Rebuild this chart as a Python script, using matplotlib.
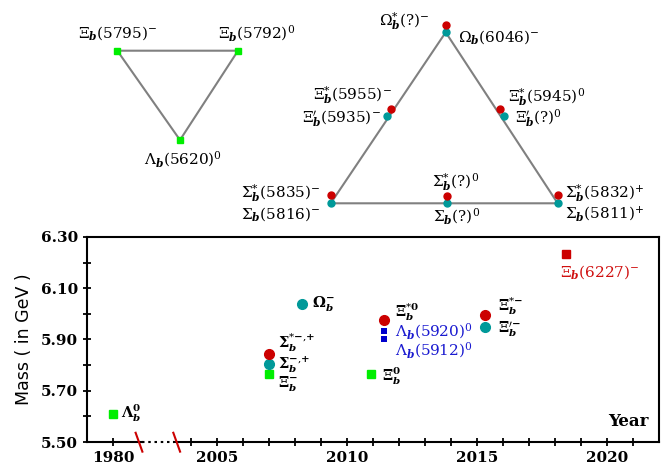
import matplotlib
matplotlib.use('Agg')
import matplotlib.pyplot as plt

plt.rcParams['mathtext.fontset'] = 'dejavuserif'
plt.rcParams['font.family'] = 'DejaVu Serif'

GREEN = '#00ee00'
RED = '#cc0000'
TEAL = '#009999'
BLUE = '#0000cc'

# ---- timeline (x = plotted year, the 1980 entry sits left of the axis break) ----
green_x = [2001.0, 2007.0, 2010.93]
green_m = [5.61, 5.764, 5.764]
green_lab = [r'$\mathbf{\Lambda}_{\mathbfit{b}}^{\mathbf{0}}$',
             r'$\mathbf{\Xi}_{\mathbfit{b}}^{{\mathbf{-}}}$',
             r'$\mathbf{\Xi}_{\mathbfit{b}}^{\mathbf{0}}$']
green_off = [(8, 0), (9, -9), (11, -2)]

teal_x = [2007.0, 2008.28, 2015.32]
teal_m = [5.806, 6.04, 5.95]
teal_lab = [r'$\mathbf{\Sigma}_{\mathbfit{b}}^{{\mathbf{-}}{,}{\mathbf{+}}}$',
            r'$\mathbf{\Omega}_{\mathbfit{b}}^{{\mathbf{-}}}$',
            r'$\mathbf{\Xi}_{\mathbfit{b}}^{{\prime}{\mathbf{-}}}$']
teal_off = [(9, 0), (10, 0), (13, -2)]

red_x = [2007.0, 2011.41, 2015.32]
red_m = [5.845, 5.977, 5.994]
red_lab = [r'$\mathbf{\Sigma}_{\mathbfit{b}}^{{*}{\mathbf{-}}{,}{\mathbf{+}}}$',
           r'$\mathbf{\Xi}_{\mathbfit{b}}^{{*}{\mathbf{0}}}$',
           r'$\mathbf{\Xi}_{\mathbfit{b}}^{{*}{\mathbf{-}}}$']
red_off = [(9, 11), (11, 7), (13, 9)]

blue_x = [2011.41, 2011.41]
blue_m = [5.932, 5.900]
blue_lab = [r'$\Lambda_{\mathbfit{b}}(5920)^{0}$', r'$\Lambda_{\mathbfit{b}}(5912)^{0}$']
blue_off = [(11, 0), (11, -11)]

new_x = [2018.43]
new_m = [6.235]
new_lab = [r'$\Xi_{\mathbfit{b}}(6227)^{-}$']
new_off = [(-6, -18)]

major_years = [2001, 2005, 2010, 2015, 2020]
major_labels = ['1980', '2005', '2010', '2015', '2020']
minor_years = [2004, 2006, 2007, 2008, 2009, 2011, 2012, 2013, 2014,
               2016, 2017, 2018, 2019, 2021]
mass_ticks = [5.50, 5.70, 5.90, 6.10, 6.30]
mass_minor = [5.60, 5.80, 6.00, 6.20]

# ---- multiplet diagrams (diagram units = pixels from top-left) ----
trip_x = [117.3, 238.0, 180.0]
trip_y = [50.7, 50.7, 140.0]
trip_lab = [r'$\Xi_{\mathbfit{b}}(5795)^{-}$', r'$\Xi_{\mathbfit{b}}(5792)^{0}$',
            r'$\Lambda_{\mathbfit{b}}(5620)^{0}$']
trip_lab_pos = [(118, 33, 'center'), (257, 33, 'center'), (183, 159, 'center')]

sext_corner_x = [445.7, 330.7, 557.7]
sext_corner_y = [32.3, 203.3, 203.3]
sext_teal_x = [445.7, 386.5, 504.3, 330.7, 446.7, 557.7]
sext_teal_y = [32.3, 116.0, 116.0, 203.3, 203.3, 203.3]
sext_red_x = [445.7, 390.5, 500.0, 330.7, 446.7, 557.7]
sext_red_y = [25.0, 109.0, 109.0, 195.0, 195.5, 195.0]
sext_lab = [r'$\Omega_{\mathbfit{b}}^{*}(?)^{-}$', r'$\Omega_{\mathbfit{b}}(6046)^{-}$',
            r'$\Xi_{\mathbfit{b}}^{*}(5955)^{-}$', r'$\Xi_{\mathbfit{b}}^{\prime}(5935)^{-}$',
            r'$\Xi_{\mathbfit{b}}^{*}(5945)^{0}$', r'$\Xi_{\mathbfit{b}}^{\prime}(?)^{0}$',
            r'$\Sigma_{\mathbfit{b}}^{*}(?)^{0}$', r'$\Sigma_{\mathbfit{b}}(?)^{0}$',
            r'$\Sigma_{\mathbfit{b}}^{*}(5832)^{+}$', r'$\Sigma_{\mathbfit{b}}(5811)^{+}$',
            r'$\Sigma_{\mathbfit{b}}^{*}(5835)^{-}$', r'$\Sigma_{\mathbfit{b}}(5816)^{-}$']
sext_lab_pos = [(430, 21, 'right'), (458, 37, 'left'),
                (392, 95, 'right'), (381, 118, 'right'),
                (508, 97, 'left'), (515, 118, 'left'),
                (456, 182, 'center'), (457, 216, 'center'),
                (565, 193, 'left'), (565, 214, 'left'),
                (320, 193, 'right'), (320, 214, 'right')]

fig = plt.figure(figsize=(6.68, 4.70), dpi=100)

# diagrams drawn on a full-figure overlay
axd = fig.add_axes([0, 0, 1, 1])
axd.set_xlim(0, 668)
axd.set_ylim(470, 0)
axd.axis('off')

axd.plot(trip_x + trip_x[:1], trip_y + trip_y[:1], color='#808080', lw=1.5, zorder=1)
axd.plot(trip_x, trip_y, 's', color=GREEN, ms=5, zorder=2)
for s, (x, y, ha) in zip(trip_lab, trip_lab_pos):
    axd.text(x, y, s, ha=ha, va='center', fontsize=11)

axd.plot(sext_corner_x + sext_corner_x[:1], sext_corner_y + sext_corner_y[:1],
         color='#808080', lw=1.5, zorder=1)
axd.plot(sext_teal_x, sext_teal_y, 'o', color=TEAL, ms=5, zorder=2)
axd.plot(sext_red_x, sext_red_y, 'o', color=RED, ms=5, zorder=2)
for s, (x, y, ha) in zip(sext_lab, sext_lab_pos):
    axd.text(x, y, s, ha=ha, va='center', fontsize=11)

# timeline
ax = fig.add_axes([87 / 668, 1 - 442 / 470, 572 / 668, 205 / 470])
ax.set_xlim(2000, 2022)
ax.set_ylim(5.5, 6.3)

ax.plot(green_x, green_m, 's', color=GREEN, ms=5.5, clip_on=False)
ax.plot(teal_x, teal_m, 'o', color=TEAL, ms=7, clip_on=False)
ax.plot(red_x, red_m, 'o', color=RED, ms=7, clip_on=False)
ax.plot(blue_x, blue_m, 's', color=BLUE, ms=4.4, mew=0, clip_on=False)
ax.plot(new_x, new_m, 's', color=RED, ms=6, clip_on=False)

groups = [(green_x, green_m, green_lab, green_off, 'black', 10.5),
          (teal_x, teal_m, teal_lab, teal_off, 'black', 10.5),
          (red_x, red_m, red_lab, red_off, 'black', 10.5),
          (blue_x, blue_m, blue_lab, blue_off, '#1a1ad0', 11),
          (new_x, new_m, new_lab, new_off, '#d01010', 11)]
for xs, ms, labs, offs, col, fs in groups:
    for x, m, s, o in zip(xs, ms, labs, offs):
        ax.annotate(s, (x, m), xytext=o, textcoords='offset pixels',
                    ha='left', va='center', fontsize=fs, color=col)

ax.text(0.9825, 0.10, 'Year', transform=ax.transAxes, ha='right', va='center',
        fontsize=12, fontweight='bold')

ax.set_xticks(major_years)
ax.set_xticklabels(major_labels)
ax.set_xticks(minor_years, minor=True)
ax.set_yticks(mass_ticks)
ax.set_yticklabels(['%.2f' % v for v in mass_ticks])
ax.set_yticks(mass_minor, minor=True)
ax.tick_params(which='both', direction='inout', length=6, width=1.3, labelsize=11)
for lbl in ax.get_xticklabels() + ax.get_yticklabels():
    lbl.set_fontweight('bold')

for sp in ['left', 'right', 'top']:
    ax.spines[sp].set_linewidth(1.5)
ax.spines['bottom'].set_visible(False)

# broken bottom spine
xt = ax.get_xaxis_transform()
ax.plot([2000, 2002.1], [0, 0], transform=xt, color='k', lw=1.5, clip_on=False)
ax.plot([2002.1, 2003.35], [0, 0], transform=xt, color='k', lw=1.5,
        ls=(0, (1.2, 1.8)), clip_on=False)
ax.plot([2003.35, 2022], [0, 0], transform=xt, color='k', lw=1.5, clip_on=False)
for bx in [2002.0, 2003.45]:
    ax.plot([bx - 0.13, bx + 0.13], [0.045, -0.047], transform=xt, color=RED,
            lw=1.5, clip_on=False)

ax.set_ylabel('Mass ( in GeV )', family='DejaVu Sans', fontsize=12.5)
ax.yaxis.set_label_coords(-0.094, 0.5)

fig.savefig('out.png', dpi=100)
